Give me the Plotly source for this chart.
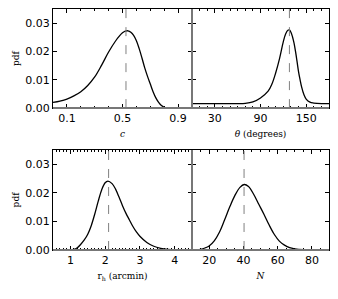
import plotly.graph_objects as go

# ---- data ----
c_x = [0.0, 0.05, 0.1, 0.15, 0.2, 0.25, 0.3, 0.35, 0.4, 0.45, 0.48, 0.5, 0.52, 0.54, 0.56, 0.58, 0.6, 0.62, 0.64, 0.66, 0.68, 0.7, 0.72, 0.74, 0.76, 0.78, 0.8, 0.82, 0.85, 1.0]
c_pdf = [0.0020, 0.0025, 0.0032, 0.0043, 0.0058, 0.0080, 0.0110, 0.0152, 0.0198, 0.0237, 0.0256, 0.0266, 0.0272, 0.0273, 0.0268, 0.0257, 0.0238, 0.0210, 0.0177, 0.0142, 0.0112, 0.0085, 0.0058, 0.0036, 0.0020, 0.0009, 0.0003, 0.0, 0.0, 0.0]
c_mark = 0.525

th_x = [0, 60, 70, 80, 90, 100, 105, 110, 115, 120, 123, 126, 128, 130, 132, 134, 136, 138, 140, 142, 144, 147, 150, 155, 160, 170, 180]
th_pdf = [0.0016, 0.0016, 0.0017, 0.0022, 0.0036, 0.0060, 0.0085, 0.0125, 0.0175, 0.0235, 0.0262, 0.0275, 0.0276, 0.0268, 0.0252, 0.0230, 0.0200, 0.0165, 0.0128, 0.0100, 0.0075, 0.0048, 0.0032, 0.0021, 0.0018, 0.0016, 0.0016]
th_mark = 128

rh_x = [0.5, 1.0, 1.1, 1.2, 1.3, 1.4, 1.5, 1.6, 1.7, 1.8, 1.9, 2.0, 2.08, 2.2, 2.3, 2.4, 2.5, 2.6, 2.7, 2.8, 2.9, 3.0, 3.2, 3.4, 3.6, 3.8, 4.0, 4.5]
rh_pdf = [0.0, 0.0, 0.0002, 0.0008, 0.0020, 0.0035, 0.0055, 0.0085, 0.0125, 0.0170, 0.0210, 0.0235, 0.0241, 0.0232, 0.0213, 0.0185, 0.0155, 0.0128, 0.0105, 0.0082, 0.0063, 0.0048, 0.0026, 0.0013, 0.0006, 0.0002, 0.0, 0.0]
rh_mark = 2.1

n_x = [10, 15, 18, 20, 23, 26, 29, 32, 35, 38, 40.5, 43, 46, 49, 52, 55, 58, 61, 64, 67, 70, 75, 80, 90]
n_pdf = [0.0, 0.0002, 0.0008, 0.0014, 0.0032, 0.0062, 0.0105, 0.0150, 0.0190, 0.0219, 0.0229, 0.0222, 0.0195, 0.0160, 0.0125, 0.0088, 0.0055, 0.0031, 0.0017, 0.0008, 0.0004, 0.0001, 0.0, 0.0]
n_mark = 40.4

panels = [
    dict(x=c_x, y=c_pdf, mark=c_mark, rng=[0, 1], tick0=0.1, dtick=0.4, minor=0.1, title="<i>c</i>"),
    dict(x=th_x, y=th_pdf, mark=th_mark, rng=[0, 180], tick0=30, dtick=60, minor=10, title="<i>θ</i> (degrees)"),
    dict(x=rh_x, y=rh_pdf, mark=rh_mark, rng=[0.5, 4.5], tick0=1, dtick=1, minor=0.1, title="r<sub>h</sub> (arcmin)"),
    dict(x=n_x, y=n_pdf, mark=n_mark, rng=[10, 90], tick0=20, dtick=20, minor=5, title="<i>N</i>"),
]

# page body has an 8px margin; lay out in window pixels minus that offset
OFF = 8
W, H = 338 - 2 * OFF, 299 - 2 * OFF


def px(v):
    return (v - OFF) / W


def py(v):
    return 1 - (v - OFF) / H


xl, xm, xr = px(53), px(192), px(329)
top_dom = [py(110), py(8)]
bot_dom = [py(256), py(153)]
xdoms = [[xl, xm], [xm, xr], [xl, xm], [xm, xr]]
ydoms = [top_dom, top_dom, bot_dom, bot_dom]

fig = go.Figure()
layout = dict(
    width=W, height=H, margin=dict(l=0, r=0, t=0, b=0),
    paper_bgcolor="white", plot_bgcolor="white", showlegend=False,
    font=dict(family="DejaVu Sans", size=11, color="black"),
)
shapes = []
for i, p in enumerate(panels):
    k = "" if i == 0 else str(i + 1)
    fig.add_trace(go.Scatter(x=p["x"], y=p["y"], mode="lines",
                             line=dict(color="black", width=1.3, shape="spline", smoothing=1.0),
                             xaxis="x" + k, yaxis="y" + k, hoverinfo="skip"))
    layout["xaxis" + k] = dict(
        domain=xdoms[i], anchor="y" + k, range=p["rng"],
        tickmode="linear", tick0=p["tick0"], dtick=p["dtick"],
        ticks="inside", ticklen=4, tickcolor="black", tickwidth=1,
        minor=dict(ticks="inside", ticklen=2, dtick=p["minor"], tick0=p["tick0"], tickcolor="black"),
        showline=True, linecolor="black", linewidth=1, mirror="ticks",
        showgrid=False, zeroline=False,
        tickfont=dict(size=11, family="DejaVu Sans"),
        title=dict(text=p["title"], font=dict(family="DejaVu Serif", size=9), standoff=6),
    )
    yax = dict(
        domain=ydoms[i], anchor="x" + k, range=[0, 0.035],
        tickmode="array", tickvals=[0, 0.01, 0.02, 0.03],
        ticks="inside", ticklen=4, tickcolor="black",
        showline=True, linecolor="black", linewidth=1, mirror="ticks",
        showgrid=False, zeroline=False,
        tickfont=dict(size=11, family="DejaVu Sans"),
    )
    if i % 2 == 0:
        yax["ticktext"] = ["0.00", "0.01", "0.02", "0.03"]
        yax["title"] = dict(text="pdf", font=dict(family="DejaVu Serif", size=9), standoff=4)
    else:
        yax["showticklabels"] = False
    layout["yaxis" + k] = yax
    shapes.append(dict(type="line", xref="x" + k, yref="y" + k + " domain",
                       x0=p["mark"], x1=p["mark"], y0=0, y1=1,
                       line=dict(color="#808080", width=1, dash="dash")))

# gray bottom spines and divider
for yd in (top_dom, bot_dom):
    shapes.append(dict(type="line", xref="paper", yref="paper", x0=xl, x1=xr, y0=yd[0], y1=yd[0],
                       line=dict(color="#777777", width=2)))
    shapes.append(dict(type="line", xref="paper", yref="paper", x0=xm, x1=xm, y0=yd[0], y1=yd[1],
                       line=dict(color="#777777", width=2)))
layout["shapes"] = shapes
fig.update_layout(**layout)
fig.write_html("out.html")
